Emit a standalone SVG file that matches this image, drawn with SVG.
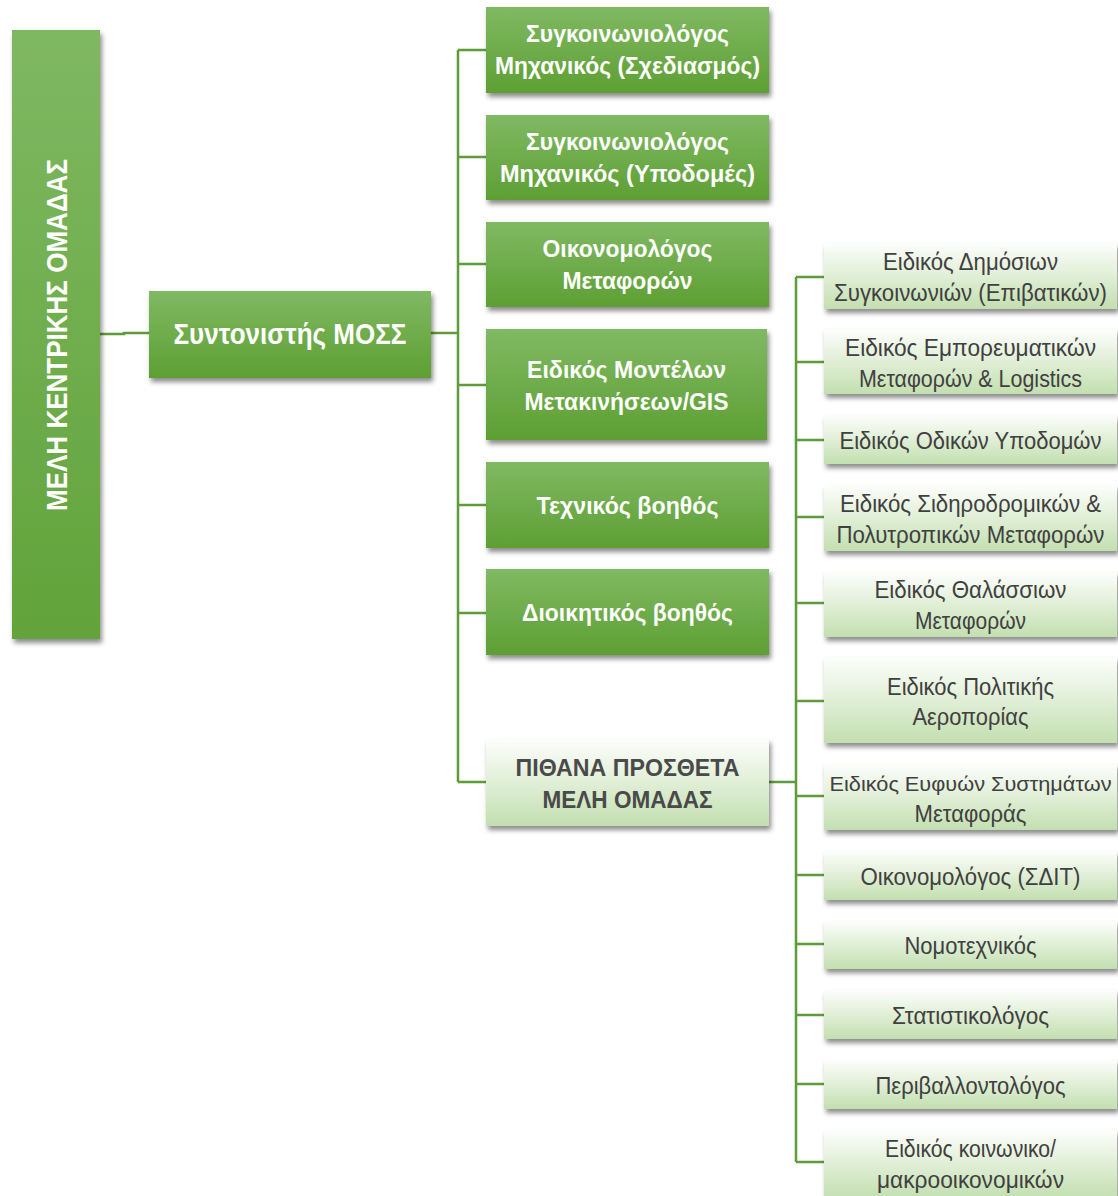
<svg xmlns="http://www.w3.org/2000/svg" width="1118" height="1196" viewBox="0 0 1118 1196">
<defs>
<linearGradient id="gDark" x1="0" y1="0" x2="0" y2="1">
<stop offset="0" stop-color="#80b963"/>
<stop offset="1" stop-color="#5e9f33"/>
</linearGradient>
<linearGradient id="gMain" x1="0" y1="0" x2="0" y2="1">
<stop offset="0" stop-color="#7fb862"/>
<stop offset="1" stop-color="#62a33a"/>
</linearGradient>
<linearGradient id="gLight" x1="0" y1="0" x2="0" y2="1">
<stop offset="0" stop-color="#fdfefc"/>
<stop offset="1" stop-color="#c3dfb0"/>
</linearGradient>
<filter id="sh" x="-10%" y="-20%" width="125%" height="150%">
<feDropShadow dx="2" dy="4" stdDeviation="2.5" flood-color="#000" flood-opacity="0.45"/>
</filter>
</defs>
<style>
.dk{fill:url(#gDark);filter:url(#sh)}
.lt{fill:url(#gLight);filter:url(#sh)}
.tw{font-family:"Liberation Sans",Arial,sans-serif;font-weight:bold;fill:#ffffff;text-anchor:middle;font-size:23px}
.tg{font-family:"Liberation Sans",Arial,sans-serif;fill:#404040;text-anchor:middle;font-size:23px}
.tgb{font-family:"Liberation Sans",Arial,sans-serif;font-weight:bold;fill:#4a4a4a;text-anchor:middle;font-size:23px}
.cn{fill:none;stroke:#5e9b39;stroke-width:2.5}
</style>
<rect width="1118" height="1196" fill="#ffffff"/>
<g id="connectors">
<path class="cn" d="M100,334 H124 V333 H149"/>
<path class="cn" d="M431,333 H458"/>
<path class="cn" d="M458,50 V782"/>
<path class="cn" d="M458,50 H486 M458,157 H486 M458,264 H486 M458,385 H486 M458,505 H486 M458,613 H486 M458,782 H486"/>
<path class="cn" d="M769,782 H796"/>
<path class="cn" d="M796,277 V1162"/>
<path class="cn" d="M796,277 H824 M796,362 H824 M796,440 H824 M796,517 H824 M796,603 H824 M796,701 H824 M796,796 H824 M796,875 H824 M796,944 H824 M796,1015 H824 M796,1084 H824 M796,1162 H824"/>
</g>
<g id="node-central">
<rect x="12" y="30" width="88" height="609" fill="url(#gMain)" filter="url(#sh)"/>
<text transform="translate(67,335) rotate(-90)" x="0" y="0" class="tw" style="font-size:30px" textLength="352" lengthAdjust="spacingAndGlyphs">ΜΕΛΗ ΚΕΝΤΡΙΚΗΣ ΟΜΑΔΑΣ</text>
</g>
<g id="node-coordinator">
<rect class="dk" x="149" y="291" width="282" height="87"/>
<text class="tw" x="290" y="344" style="font-size:30px" textLength="233" lengthAdjust="spacingAndGlyphs">Συντονιστής ΜΟΣΣ</text>
</g>
<g id="node-m1">
<rect class="dk" x="486" y="7" width="283" height="86"/>
<text class="tw" x="627.5" y="42" textLength="203" lengthAdjust="spacingAndGlyphs">Συγκοινωνιολόγος</text>
<text class="tw" x="627.5" y="74" textLength="265" lengthAdjust="spacingAndGlyphs">Μηχανικός (Σχεδιασμός)</text>
</g>
<g id="node-m2">
<rect class="dk" x="486" y="115" width="283" height="85"/>
<text class="tw" x="627.5" y="150" textLength="203" lengthAdjust="spacingAndGlyphs">Συγκοινωνιολόγος</text>
<text class="tw" x="627.5" y="182" textLength="255" lengthAdjust="spacingAndGlyphs">Μηχανικός (Υποδομές)</text>
</g>
<g id="node-m3">
<rect class="dk" x="486" y="222" width="283" height="85"/>
<text class="tw" x="627.5" y="257" textLength="170" lengthAdjust="spacingAndGlyphs">Οικονομολόγος</text>
<text class="tw" x="627.5" y="289" textLength="130" lengthAdjust="spacingAndGlyphs">Μεταφορών</text>
</g>
<g id="node-m4">
<rect class="dk" x="486" y="329" width="281" height="111"/>
<text class="tw" x="626.5" y="378" textLength="199" lengthAdjust="spacingAndGlyphs">Ειδικός Μοντέλων</text>
<text class="tw" x="626.5" y="410" textLength="204" lengthAdjust="spacingAndGlyphs">Μετακινήσεων/GIS</text>
</g>
<g id="node-m5">
<rect class="dk" x="486" y="462" width="283" height="86"/>
<text class="tw" x="627.5" y="514" textLength="182" lengthAdjust="spacingAndGlyphs">Τεχνικός βοηθός</text>
</g>
<g id="node-m6">
<rect class="dk" x="486" y="569" width="283" height="86"/>
<text class="tw" x="627.5" y="621" textLength="211" lengthAdjust="spacingAndGlyphs">Διοικητικός βοηθός</text>
</g>
<g id="node-m7">
<rect class="lt" x="486" y="739" width="283" height="87"/>
<text class="tgb" x="627.5" y="776" textLength="224" lengthAdjust="spacingAndGlyphs">ΠΙΘΑΝΑ ΠΡΟΣΘΕΤΑ</text>
<text class="tgb" x="627.5" y="808" textLength="170" lengthAdjust="spacingAndGlyphs">ΜΕΛΗ ΟΜΑΔΑΣ</text>
</g>
<g id="node-r1">
<rect class="lt" x="824" y="243" width="293" height="66"/>
<text class="tg" x="970.5" y="270" textLength="175" lengthAdjust="spacingAndGlyphs">Ειδικός Δημόσιων</text>
<text class="tg" x="970.5" y="301" textLength="273" lengthAdjust="spacingAndGlyphs">Συγκοινωνιών (Επιβατικών)</text>
</g>
<g id="node-r2">
<rect class="lt" x="824" y="329" width="293" height="65"/>
<text class="tg" x="970.5" y="356" textLength="251" lengthAdjust="spacingAndGlyphs">Ειδικός Εμπορευματικών</text>
<text class="tg" x="970.5" y="387" textLength="223" lengthAdjust="spacingAndGlyphs">Μεταφορών &amp; Logistics</text>
</g>
<g id="node-r3">
<rect class="lt" x="824" y="415" width="293" height="49"/>
<text class="tg" x="970.5" y="449" textLength="262" lengthAdjust="spacingAndGlyphs">Ειδικός Οδικών Υποδομών</text>
</g>
<g id="node-r4">
<rect class="lt" x="824" y="485" width="293" height="66"/>
<text class="tg" x="970.5" y="512" textLength="261" lengthAdjust="spacingAndGlyphs">Ειδικός Σιδηροδρομικών &amp;</text>
<text class="tg" x="970.5" y="543" textLength="268" lengthAdjust="spacingAndGlyphs">Πολυτροπικών Μεταφορών</text>
</g>
<g id="node-r5">
<rect class="lt" x="824" y="572" width="293" height="65"/>
<text class="tg" x="970.5" y="598" textLength="192" lengthAdjust="spacingAndGlyphs">Ειδικός Θαλάσσιων</text>
<text class="tg" x="970.5" y="629" textLength="111" lengthAdjust="spacingAndGlyphs">Μεταφορών</text>
</g>
<g id="node-r6">
<rect class="lt" x="824" y="657" width="293" height="86"/>
<text class="tg" x="970.5" y="695" textLength="167" lengthAdjust="spacingAndGlyphs">Ειδικός Πολιτικής</text>
<text class="tg" x="970.5" y="725" textLength="116" lengthAdjust="spacingAndGlyphs">Αεροπορίας</text>
</g>
<g id="node-r7">
<rect class="lt" x="824" y="764" width="293" height="66"/>
<text class="tg" x="970.5" y="791" style="font-size:21px" textLength="282" lengthAdjust="spacingAndGlyphs">Ειδικός Ευφυών Συστημάτων</text>
<text class="tg" x="970.5" y="822" textLength="112" lengthAdjust="spacingAndGlyphs">Μεταφοράς</text>
</g>
<g id="node-r8">
<rect class="lt" x="824" y="851" width="293" height="49"/>
<text class="tg" x="970.5" y="885" textLength="220" lengthAdjust="spacingAndGlyphs">Οικονομολόγος (ΣΔΙΤ)</text>
</g>
<g id="node-r9">
<rect class="lt" x="824" y="921" width="293" height="48"/>
<text class="tg" x="970.5" y="954" textLength="132" lengthAdjust="spacingAndGlyphs">Νομοτεχνικός</text>
</g>
<g id="node-r10">
<rect class="lt" x="824" y="990" width="293" height="49"/>
<text class="tg" x="970.5" y="1024" textLength="157" lengthAdjust="spacingAndGlyphs">Στατιστικολόγος</text>
</g>
<g id="node-r11">
<rect class="lt" x="824" y="1060" width="293" height="49"/>
<text class="tg" x="970.5" y="1094" textLength="190" lengthAdjust="spacingAndGlyphs">Περιβαλλοντολόγος</text>
</g>
<g id="node-r12">
<rect class="lt" x="824" y="1130" width="293" height="68"/>
<text class="tg" x="970.5" y="1157" textLength="171" lengthAdjust="spacingAndGlyphs">Ειδικός κοινωνικο/</text>
<text class="tg" x="970.5" y="1188" textLength="187" lengthAdjust="spacingAndGlyphs">μακροοικονομικών</text>
</g>
</svg>
